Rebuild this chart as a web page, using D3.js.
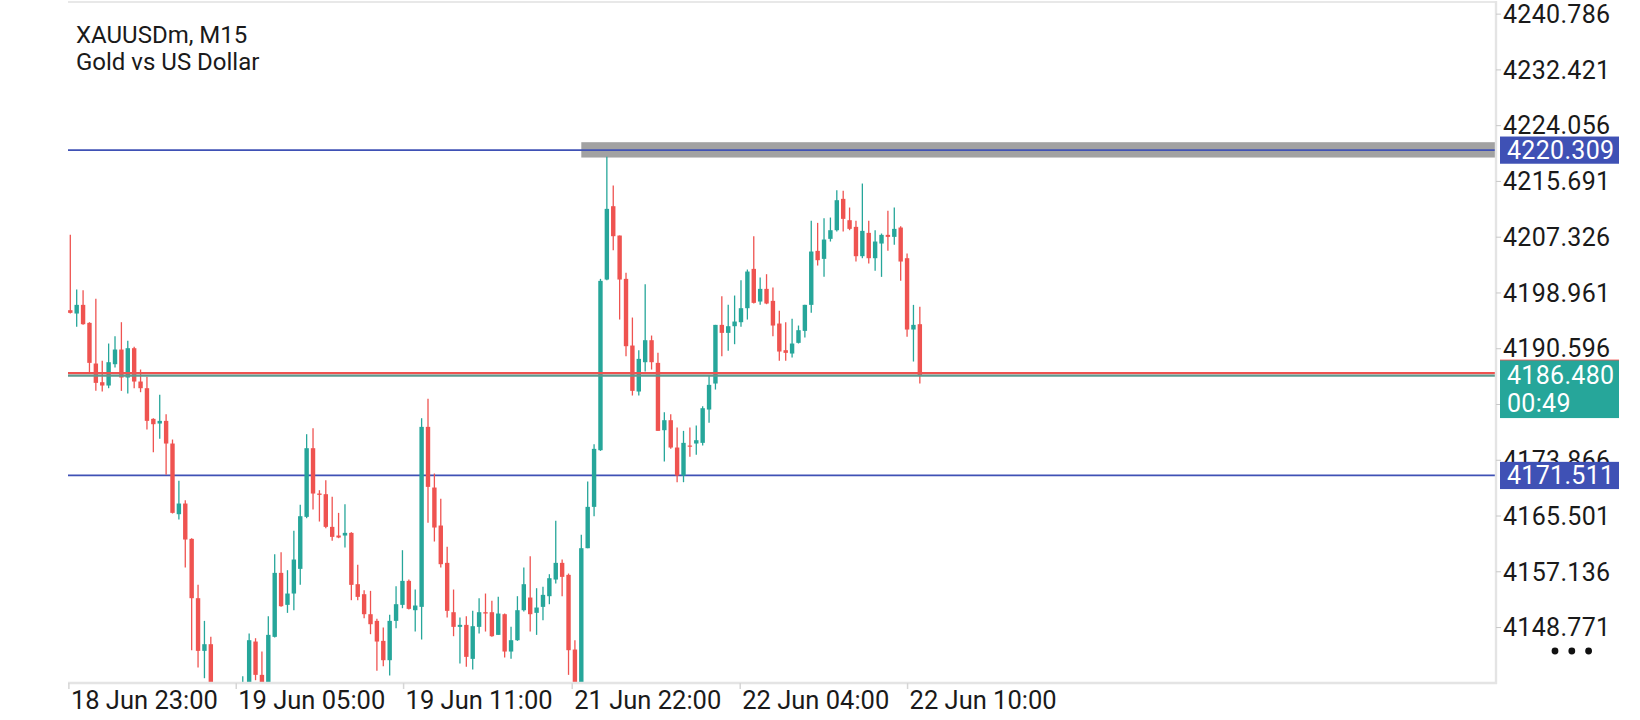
<!DOCTYPE html>
<html>
<head>
<meta charset="utf-8">
<script src="https://cdn.jsdelivr.net/npm/d3@7"></script>
<style>
  html, body { margin: 0; padding: 0; background: #fff; }
  svg { display: block; font-family: Roboto, "Noto Sans", sans-serif; }
</style>
</head>
<body>
<div id="chart"></div>
<script>
// datos (M15, indice de barra 0..133)
const opens = [
  4196.3, 4195.8, 4197.1, 4194.4, 4188.3, 4185.5, 4185.0, 4188.2, 4190.4, 4186.2,
  4190.6, 4185.6, 4184.6, 4180.0, 4179.3, 4179.7, 4176.3, 4165.7, 4167.3, 4162.0,
  4153.1, 4145.2, 4146.2, 4136.5, 4133.0, 4135.0, 4132.0, 4136.0, 4139.5, 4146.6,
  4141.6, 4139.8, 4147.3, 4156.9, 4152.1, 4153.8, 4157.5, 4165.3, 4175.6, 4168.8,
  4168.7, 4163.8, 4162.5, 4162.5, 4162.9, 4155.2, 4153.7, 4150.7, 4149.7, 4146.7,
  4143.8, 4149.7, 4152.1, 4155.7, 4151.3, 4151.8, 4178.8, 4169.7, 4164.0, 4158.4,
  4151.0, 4148.8, 4149.1, 4144.0, 4148.8, 4151.0, 4151.0, 4147.6, 4150.7, 4145.1,
  4146.8, 4151.3, 4153.2, 4150.9, 4151.8, 4153.4, 4155.9, 4158.4, 4156.6, 4145.4,
  4138.8, 4160.6, 4166.8, 4175.3, 4200.9, 4211.9, 4207.5, 4201.0, 4191.0, 4184.1,
  4188.5, 4191.8, 4188.4, 4178.3, 4179.8, 4175.7, 4171.5, 4176.0, 4176.3, 4176.4,
  4181.4, 4185.3, 4194.1, 4192.9, 4193.9, 4194.5, 4196.6, 4202.5, 4197.6, 4199.5,
  4197.7, 4194.3, 4190.3, 4189.8, 4191.4, 4193.2, 4197.1, 4205.2, 4204.0, 4207.0,
  4208.3, 4213.0, 4209.8, 4208.8, 4204.4, 4207.9, 4204.1, 4206.3, 4207.6, 4207.3,
  4208.7, 4204.1, 4193.4, 4194.2
];
const highs = [
  4207.6, 4199.4, 4199.3, 4194.5, 4198.0, 4188.7, 4191.3, 4192.4, 4194.5, 4191.7,
  4190.8, 4187.4, 4186.3, 4180.1, 4183.6, 4180.7, 4176.9, 4170.7, 4167.8, 4162.1,
  4155.1, 4149.7, 4147.3, 4137.5, 4136.5, 4137.0, 4138.0, 4141.4, 4147.8, 4147.1,
  4145.1, 4150.4, 4159.7, 4160.0, 4157.3, 4163.2, 4167.1, 4177.7, 4178.6, 4169.3,
  4170.8, 4168.3, 4165.9, 4167.2, 4163.0, 4158.1, 4154.3, 4154.2, 4150.0, 4148.7,
  4150.6, 4154.9, 4160.3, 4155.9, 4154.4, 4180.1, 4183.0, 4171.8, 4168.0, 4160.8,
  4154.4, 4150.2, 4150.4, 4151.2, 4153.1, 4153.8, 4152.7, 4153.3, 4150.8, 4148.8,
  4153.4, 4157.7, 4159.4, 4154.6, 4154.8, 4156.7, 4164.7, 4158.9, 4156.8, 4146.8,
  4162.6, 4170.6, 4176.2, 4201.0, 4219.3, 4215.0, 4207.5, 4201.9, 4195.2, 4190.3,
  4200.2, 4192.5, 4189.9, 4181.0, 4180.7, 4178.7, 4178.2, 4178.7, 4179.0, 4181.9,
  4186.5, 4194.1, 4198.4, 4197.1, 4198.5, 4200.8, 4202.4, 4207.4, 4201.2, 4201.7,
  4199.7, 4196.2, 4194.5, 4195.0, 4194.0, 4197.1, 4209.7, 4209.4, 4210.1, 4210.2,
  4214.3, 4214.2, 4211.7, 4209.7, 4215.3, 4209.7, 4208.3, 4207.8, 4211.2, 4211.7,
  4208.9, 4204.8, 4197.1, 4196.8
];
const lows = [
  4195.8, 4193.8, 4194.1, 4186.8, 4184.2, 4184.1, 4184.6, 4187.7, 4184.2, 4183.8,
  4184.6, 4184.0, 4178.4, 4175.0, 4177.0, 4171.6, 4165.8, 4164.9, 4157.7, 4145.3,
  4142.7, 4141.1, 4135.0, 4131.0, 4130.5, 4130.0, 4131.0, 4134.5, 4138.0, 4140.8,
  4138.5, 4138.5, 4147.2, 4151.8, 4150.9, 4151.3, 4155.1, 4165.1, 4166.4, 4164.6,
  4163.6, 4161.7, 4162.1, 4160.7, 4152.8, 4152.8, 4150.1, 4147.7, 4142.2, 4142.9,
  4141.5, 4148.6, 4151.6, 4151.4, 4148.1, 4146.9, 4164.4, 4161.6, 4157.7, 4150.2,
  4147.4, 4143.3, 4142.8, 4142.4, 4147.8, 4148.1, 4147.3, 4147.6, 4144.2, 4144.0,
  4146.7, 4151.1, 4148.1, 4147.6, 4149.8, 4152.2, 4155.3, 4153.4, 4141.6, 4137.0,
  4137.5, 4160.6, 4165.4, 4175.2, 4200.8, 4205.3, 4194.9, 4189.4, 4183.5, 4183.5,
  4187.1, 4187.4, 4178.2, 4173.6, 4175.5, 4170.5, 4170.5, 4174.3, 4174.6, 4176.0,
  4179.4, 4184.4, 4189.4, 4190.2, 4191.2, 4193.8, 4194.9, 4197.3, 4197.1, 4197.2,
  4192.4, 4188.7, 4188.7, 4189.2, 4191.3, 4192.2, 4195.9, 4203.0, 4201.3, 4206.6,
  4208.1, 4208.1, 4208.3, 4203.6, 4204.1, 4203.3, 4202.2, 4201.3, 4205.2, 4206.1,
  4200.7, 4192.3, 4188.6, 4185.3
];
const closes = [
  4195.9, 4197.1, 4194.2, 4188.4, 4185.4, 4185.0, 4188.5, 4190.4, 4186.2, 4190.6,
  4185.6, 4184.6, 4179.7, 4179.2, 4179.7, 4176.3, 4165.9, 4167.3, 4161.9, 4153.1,
  4145.2, 4146.2, 4136.5, 4133.0, 4135.0, 4132.0, 4136.0, 4139.5, 4146.8, 4141.6,
  4139.8, 4147.6, 4156.9, 4151.9, 4153.8, 4158.9, 4165.4, 4175.6, 4168.8, 4168.6,
  4163.8, 4162.3, 4162.2, 4162.9, 4155.1, 4153.3, 4150.7, 4149.2, 4146.6, 4143.8,
  4149.7, 4152.2, 4155.7, 4151.5, 4152.0, 4178.8, 4169.8, 4163.7, 4158.2, 4151.2,
  4148.8, 4149.1, 4144.3, 4148.9, 4151.0, 4150.8, 4147.4, 4150.8, 4145.1, 4146.8,
  4151.3, 4155.2, 4150.7, 4151.7, 4153.6, 4156.1, 4158.4, 4156.3, 4145.3, 4138.5,
  4160.6, 4166.8, 4175.5, 4200.7, 4211.5, 4207.4, 4200.9, 4190.9, 4184.2, 4189.0,
  4191.8, 4188.5, 4178.2, 4179.8, 4175.7, 4171.5, 4176.4, 4175.9, 4176.8, 4181.6,
  4185.1, 4194.1, 4192.9, 4193.9, 4194.6, 4196.6, 4202.1, 4197.4, 4199.5, 4197.3,
  4194.0, 4190.1, 4189.9, 4191.3, 4193.3, 4197.1, 4205.1, 4203.8, 4206.9, 4208.3,
  4212.8, 4210.0, 4208.5, 4204.4, 4208.2, 4204.1, 4206.6, 4207.6, 4207.3, 4208.5,
  4203.6, 4193.4, 4194.1, 4186.48
];

// escala de precios y etiquetas de tiempo
const priceTicks = [4240.786, 4232.421, 4224.056, 4215.691, 4207.326, 4198.961,
  4190.596, 4182.231, 4173.866, 4165.501, 4157.136, 4148.771];
const timeLabels = ["18 Jun 23:00", "19 Jun 05:00", "19 Jun 11:00",
  "21 Jun 22:00", "22 Jun 04:00", "22 Jun 10:00"];
const timeLabelBars = [-0.3, 25.9, 52.1, 78.5, 104.8, 131.0];

// niveles dibujados
const levelPrices = [4220.309, 4171.511];
const zonePrices = [4219.2, 4221.5];
const zoneStartBar = 80;
const bidPrice = 4186.480;
const askPrice = 4186.85;
const countdown = "00:49";
const titleLines = ["XAUUSDm, M15", "Gold vs US Dollar"];

const w = 1640;
const h = 720;
const margin = ({ top: 2, right: 144, bottom: 37, left: 68 });
const plotR = w - margin.right;
const plotB = h - margin.bottom;

const colUp = "#26a69a";
const colDown = "#ef5350";
const colLevel = "#3f51b5";
const axisFont = 25;

const bars = opens.map((o, i) => ({ i: i, o: o, h: highs[i], l: lows[i], c: closes[i] }));

const svg = d3.select("#chart")
  .append("svg")
  .attr("width", w)
  .attr("height", h);

const xScale = d3.scaleLinear()
  .domain([-0.36, 223.2])
  .range([margin.left, plotR]);

const yScale = d3.scaleLinear()
  .domain([4140.38, 4242.53])
  .range([plotB, margin.top]);

svg.append("clipPath").attr("id", "plotClip")
  .append("rect")
  .attr("x", margin.left).attr("y", margin.top)
  .attr("width", plotR - margin.left).attr("height", plotB - margin.top);

// Titulo
svg.selectAll("text.titulo")
  .data(titleLines)
  .enter()
  .append("text")
  .attr("class", "titulo")
  .attr("x", 76)
  .attr("y", (d, i) => 42.5 + i * 27.7)
  .attr("font-size", 24)
  .attr("fill", "#1a1a1a")
  .text(d => d);

const plot = svg.append("g").attr("clip-path", "url(#plotClip)");

// Zona gris
plot.append("rect")
  .attr("x", xScale(zoneStartBar))
  .attr("y", yScale(zonePrices[1]))
  .attr("width", plotR - xScale(zoneStartBar))
  .attr("height", yScale(zonePrices[0]) - yScale(zonePrices[1]))
  .attr("fill", "#a2a2a2");

// Lineas horizontales azules
plot.selectAll("line.nivel")
  .data(levelPrices)
  .enter()
  .append("line")
  .attr("class", "nivel")
  .attr("x1", margin.left).attr("x2", plotR)
  .attr("y1", d => yScale(d)).attr("y2", d => yScale(d))
  .attr("stroke", colLevel)
  .attr("stroke-width", 1.8);

// Velas
const candle = plot.selectAll("g.vela")
  .data(bars)
  .enter()
  .append("g")
  .attr("class", "vela");

candle.append("line")
  .attr("x1", d => xScale(d.i)).attr("x2", d => xScale(d.i))
  .attr("y1", d => yScale(d.h)).attr("y2", d => yScale(d.l))
  .attr("stroke", d => d.c >= d.o ? colUp : colDown)
  .attr("stroke-width", 1.3);

candle.append("rect")
  .attr("x", d => xScale(d.i) - 2.2)
  .attr("width", 4.4)
  .attr("y", d => yScale(Math.max(d.o, d.c)))
  .attr("height", d => Math.max(1.2, Math.abs(yScale(d.o) - yScale(d.c))))
  .attr("fill", d => d.c >= d.o ? colUp : colDown);

// Lineas ask / bid
plot.append("line")
  .attr("x1", margin.left).attr("x2", plotR)
  .attr("y1", yScale(askPrice)).attr("y2", yScale(askPrice))
  .attr("stroke", colDown).attr("stroke-width", 2.3);
plot.append("line")
  .attr("x1", margin.left).attr("x2", plotR)
  .attr("y1", yScale(bidPrice)).attr("y2", yScale(bidPrice))
  .attr("stroke", "#5f9a8f").attr("stroke-width", 2.3);

// Marco
svg.append("line")
  .attr("x1", margin.left).attr("x2", plotR)
  .attr("y1", margin.top).attr("y2", margin.top)
  .attr("stroke", "#e8e8e8").attr("stroke-width", 2.2);
svg.append("line")
  .attr("x1", plotR).attr("x2", plotR)
  .attr("y1", margin.top - 1).attr("y2", plotB + 1)
  .attr("stroke", "#e4e4e4").attr("stroke-width", 2.4);
svg.append("line")
  .attr("x1", margin.left).attr("x2", plotR + 1)
  .attr("y1", plotB).attr("y2", plotB)
  .attr("stroke", "#e4e4e4").attr("stroke-width", 2.6);

// Eje de precios
const yAxis = d3.axisRight(yScale)
  .tickValues(priceTicks)
  .tickFormat(d3.format(".3f"))
  .tickSize(5)
  .tickPadding(2);

const gy = svg.append("g")
  .attr("class", "eje")
  .attr("transform", `translate(${plotR},0)`)
  .call(yAxis);
gy.select(".domain").remove();
gy.selectAll(".tick line").attr("stroke", "#c8c8c8");
gy.selectAll(".tick text")
  .attr("font-family", "Roboto, sans-serif")
  .attr("font-size", axisFont)
  .attr("letter-spacing", 0.3)
  .attr("fill", "#1a1a1a")
  .attr("dy", "0.35em");

// Eje de tiempo
const xAxis = d3.axisBottom(xScale)
  .tickValues(timeLabelBars)
  .tickFormat((d, i) => timeLabels[i])
  .tickSize(6);

const gx = svg.append("g")
  .attr("class", "eje")
  .attr("transform", `translate(0,${plotB})`)
  .call(xAxis);
gx.select(".domain").remove();
gx.selectAll(".tick line").attr("stroke", "#d6d6d6").attr("stroke-width", 1.5);
gx.selectAll(".tick text")
  .attr("font-family", "Roboto, sans-serif")
  .attr("font-size", 25.5)
  .attr("fill", "#1a1a1a")
  .attr("text-anchor", "start")
  .attr("x", 2)
  .attr("y", 8)
  .attr("dy", "0.71em");

// Etiquetas de niveles
const boxX = plotR + 4;
const boxW = 119;
levelPrices.forEach(p => {
  svg.append("rect")
    .attr("x", boxX).attr("y", yScale(p) - 13.6)
    .attr("width", boxW).attr("height", 27.2)
    .attr("fill", colLevel);
  svg.append("text")
    .attr("x", boxX + 7).attr("y", yScale(p))
    .attr("dy", "0.35em")
    .attr("font-size", axisFont)
    .attr("letter-spacing", 0.3)
    .attr("fill", "#fff")
    .text(d3.format(".3f")(p));
});

// Precio actual
svg.append("rect")
  .attr("x", boxX).attr("y", yScale(askPrice) - 13.6)
  .attr("width", boxW).attr("height", 27.2)
  .attr("fill", colDown);
svg.append("rect")
  .attr("x", boxX).attr("y", yScale(bidPrice) - 15.2)
  .attr("width", boxW).attr("height", 57.6)
  .attr("fill", colUp);
svg.append("text")
  .attr("x", boxX + 7).attr("y", yScale(bidPrice))
  .attr("dy", "0.35em")
  .attr("font-size", axisFont)
  .attr("letter-spacing", 0.3)
  .attr("fill", "#fff")
  .text(d3.format(".3f")(bidPrice));
svg.append("text")
  .attr("x", boxX + 7).attr("y", yScale(bidPrice) + 27.5)
  .attr("dy", "0.35em")
  .attr("font-size", axisFont)
  .attr("letter-spacing", 0.3)
  .attr("fill", "#fff")
  .text(countdown);

// Menu (tres puntos)
svg.selectAll("circle.menu")
  .data([0, 1, 2])
  .enter()
  .append("circle")
  .attr("class", "menu")
  .attr("cx", d => 1555 + d * 16.8)
  .attr("cy", 651)
  .attr("r", 3.4)
  .attr("fill", "#111");
</script>
</body>
</html>
